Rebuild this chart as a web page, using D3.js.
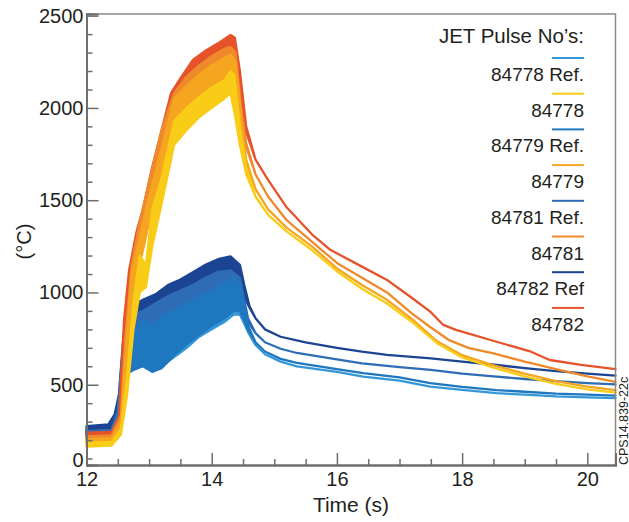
<!DOCTYPE html>
<html><head><meta charset="utf-8">
<script src="https://cdn.jsdelivr.net/npm/d3@7"></script>
<style>body{margin:0;background:#fff}</style>
</head><body><svg id="c" width="629" height="522"></svg>
<script>
// ---- data (t [s], low, high [°C]); single value where the trace is a thin line ----
const legendLabels = ["84778 Ref.","84778","84779 Ref.","84779","84781 Ref.","84781","84782 Ref","84782"];
const legendColors = ["#3597d8","#f9cc18","#1f77c0","#f5a51f","#2e6db5","#ef8a2c","#1b4592","#e6532a"];
const xTicksMajor = [12,14,16,18,20];
const yTicksMajor = [500,1000,1500,2000,2500];

const ref84782 = [[12.0,240,275],[12.35,250,285],[12.45,280,340],[12.52,380,450],[12.58,600,720],[12.65,760,880],[12.75,800,930],[12.9,840,960],[13.1,870,990],[13.3,900,1040],[13.5,930,1070],[13.7,980,1110],[13.9,1020,1150],[14.1,1060,1180],[14.3,1080,1195],[14.45,1050,1150],[14.52,980,1040],[14.6,920,930],[14.7,860],[14.85,800],[15.1,760],[15.5,730],[16.0,700],[16.4,679],[16.8,662],[17.5,643],[18.0,625],[18.55,607],[19.0,590],[19.5,574],[20.0,560],[20.45,549]];
const ref84781 = [[12.0,225,250],[12.4,230,255],[12.5,300,360],[12.56,500,620],[12.63,700,800],[12.75,720,880],[12.9,720,900],[13.1,760,940],[13.3,790,980],[13.5,820,1010],[13.7,860,1040],[13.9,900,1080],[14.1,940,1110],[14.3,970,1120],[14.45,960,1080],[14.52,900,960],[14.58,840,860],[14.7,780],[14.85,730],[15.1,695],[15.36,672],[16.0,638],[16.4,616],[17.0,595],[17.5,580],[18.0,560],[18.55,544],[19.0,531],[19.5,519],[20.0,509],[20.45,502]];
const ref84779 = [[12.0,215,240],[12.4,220,245],[12.5,290,340],[12.57,450,560],[12.65,560,700],[12.75,580,780],[12.9,600,850],[13.05,570,820],[13.2,590,870],[13.4,660,900],[13.6,720,940],[13.8,770,980],[14.0,820,1010],[14.2,860,1050],[14.35,900,1080],[14.45,900,1040],[14.52,850,920],[14.58,800,820],[14.7,730],[14.85,680],[15.1,640],[15.36,618],[16.0,585],[16.42,563],[17.0,540],[17.49,509],[18.0,488],[18.55,471],[19.0,462],[19.5,452],[20.0,446],[20.45,441]];
const ref84778 = [[12.0,205,230],[12.4,210,235],[12.5,280,330],[12.57,430,540],[12.65,560,680],[12.75,590,760],[12.9,620,830],[13.05,580,800],[13.2,600,850],[13.4,650,880],[13.6,700,920],[13.8,760,960],[14.0,800,990],[14.2,840,1030],[14.35,880,1060],[14.45,880,1020],[14.52,830,900],[14.58,785,800],[14.7,715],[14.85,665],[15.1,625],[15.36,600],[16.0,570],[16.42,544],[17.0,522],[17.49,490],[18.0,472],[18.55,454],[19.0,446],[19.5,437],[20.0,432],[20.45,427]];
const p84782 = [[12.0,215,240],[12.4,220,245],[12.52,280,330],[12.6,700,850],[12.68,1000,1120],[12.8,1200,1330],[12.9,1350,1450],[13.05,1550,1680],[13.2,1780,1880],[13.35,1980,2080],[13.5,2060,2160],[13.7,2150,2260],[13.9,2200,2310],[14.1,2250,2350],[14.3,2290,2395],[14.37,2230,2380],[14.45,2050,2200],[14.55,1870,1900],[14.7,1720],[14.9,1610],[15.2,1460],[15.6,1315],[15.9,1230],[16.4,1140],[16.8,1068],[17.2,970],[17.5,893],[17.7,824],[17.9,797],[18.55,733],[19.1,679],[19.4,634],[19.9,607],[20.45,584]];
const p84781 = [[12.0,200,220],[12.4,205,225],[12.55,280,330],[12.62,600,750],[12.72,1000,1150],[12.85,1250,1380],[13.0,1480,1600],[13.2,1750,1880],[13.4,1980,2080],[13.6,2070,2170],[13.8,2120,2230],[14.0,2170,2280],[14.2,2210,2320],[14.3,2230,2330],[14.38,2150,2300],[14.47,1850,2000],[14.55,1790,1810],[14.7,1640],[14.9,1520],[15.2,1390],[15.6,1275],[16.0,1160],[16.4,1080],[16.8,1000],[17.2,885],[17.5,810],[17.8,740],[18.1,700],[18.5,670],[19.0,625],[19.5,585],[20.0,545],[20.45,516]];
const p84779 = [[12.0,185,205],[12.4,190,210],[12.55,260,300],[12.62,500,650],[12.72,900,1100],[12.85,1150,1300],[13.0,1380,1520],[13.2,1650,1780],[13.4,1900,2050],[13.6,2000,2120],[13.8,2060,2180],[14.0,2120,2230],[14.2,2160,2270],[14.3,2180,2290],[14.38,2100,2250],[14.47,1780,1950],[14.55,1700,1720],[14.7,1560],[14.9,1450],[15.2,1350],[15.6,1250],[16.0,1130],[16.4,1040],[16.8,960],[17.2,855],[17.6,735],[18.0,660],[18.5,605],[19.0,560],[19.5,520],[20.0,490],[20.45,471]];
const p84778 = [[12.0,165,185],[12.4,170,190],[12.55,230,260],[12.65,450,550],[12.75,800,950],[12.85,1000,1200],[12.95,1030,1150],[13.05,1250,1450],[13.2,1480,1620],[13.4,1800,1930],[13.6,1880,2000],[13.8,1950,2060],[14.0,2000,2110],[14.2,2050,2150],[14.3,2080,2200],[14.36,1980,2180],[14.45,1800,1900],[14.55,1640,1680],[14.7,1520],[14.9,1420],[15.2,1330],[15.6,1230],[16.0,1115],[16.4,1020],[16.8,940],[17.2,840],[17.6,725],[18.0,648],[18.5,592],[19.0,545],[19.5,505],[20.0,475],[20.45,457]];

// drawing order (blues behind, hot traces in front)
const drawOrder = [
  {d: ref84782, c: legendColors[6]},
  {d: ref84781, c: legendColors[4]},
  {d: ref84778, c: legendColors[0]},
  {d: ref84779, c: legendColors[2]},
  {d: p84782, c: legendColors[7]},
  {d: p84781, c: legendColors[5]},
  {d: p84779, c: legendColors[3]},
  {d: p84778, c: legendColors[1]}
];

const svg = d3.select("#c");
const L = 86.5, R = 615.5, T = 14, B = 465;
const x = d3.scaleLinear().domain([12, 20.45]).range([L, R]);
const y = d3.scaleLinear().domain([65, 2509]).range([B, T]);

const lo = d => d[1], hi = d => (d.length > 2 ? d[2] : d[1]);
const area = d3.area().x(d => x(d[0])).y0(d => y(lo(d))).y1(d => y(hi(d)));

const g = svg.append("g");
drawOrder.forEach(s => {
  g.append("path").attr("d", area(s.d))
    .attr("fill", s.c).attr("stroke", s.c)
    .attr("stroke-width", 2.3).attr("stroke-linejoin", "round");
});

const axisColor = "#6e6e6e";
const font = "'Liberation Sans', Arial, sans-serif";

// frame
svg.append("path").attr("d", `M${L},${T}H${R}V${B}`).attr("fill","none")
  .attr("stroke","#8a8a8a").attr("stroke-width",1.5);

// x axis
const xMinor = d3.range(12.5, 20.45, 0.5).filter(v => v % 2 !== 0);
const gxm = svg.append("g").attr("transform", `translate(0,${B})`)
  .call(d3.axisBottom(x).tickValues(xMinor).tickSize(-6).tickFormat(""));
const gx = svg.append("g").attr("transform", `translate(0,${B})`)
  .call(d3.axisBottom(x).tickValues(xTicksMajor).tickSize(-12).tickPadding(7).tickFormat(d3.format("d")));
// y axis
const yMinor = d3.range(100, 2500, 100).filter(v => v % 500 !== 0);
const gym = svg.append("g").attr("transform", `translate(${L},0)`)
  .call(d3.axisLeft(y).tickValues(yMinor).tickSize(-6).tickFormat(""));
const gy = svg.append("g").attr("transform", `translate(${L},0)`)
  .call(d3.axisLeft(y).tickValues(yTicksMajor).tickSize(-12).tickPadding(3).tickFormat(d3.format("d")));

[gxm, gx, gym, gy].forEach(a => {
  a.select(".domain").attr("stroke", axisColor).attr("stroke-width", 2);
  a.selectAll(".tick line").attr("stroke", axisColor).attr("stroke-width", 1.5);
  a.selectAll("text").attr("font-family", font).attr("font-size", 20).attr("fill", "#231f20");
});
// "0" label at the bottom of the y axis
svg.append("text").attr("x", L - 3).attr("y", B + 1.5).attr("text-anchor","end")
  .attr("font-family", font).attr("font-size", 20).attr("fill","#231f20").text("0");

// axis titles
svg.append("text").attr("x", (L + R) / 2).attr("y", 512).attr("text-anchor","middle")
  .attr("font-family", font).attr("font-size", 21).attr("fill","#231f20").text("Time (s)");
svg.append("text").attr("transform", `translate(31,${(T + B) / 2 + 2}) rotate(-90)`).attr("text-anchor","middle")
  .attr("font-family", font).attr("font-size", 20).attr("fill","#231f20").text("(°C)");

// legend
const lx1 = 552, lx2 = 584;
svg.append("text").attr("x", lx2).attr("y", 43).attr("text-anchor","end")
  .attr("font-family", font).attr("font-size", 20.5).attr("fill","#231f20").text("JET Pulse No’s:");
legendLabels.forEach((lab, i) => {
  const ly = 58 + i * 35.7;
  svg.append("line").attr("x1", lx1).attr("x2", lx2).attr("y1", ly).attr("y2", ly)
    .attr("stroke", legendColors[i]).attr("stroke-width", 2);
  svg.append("text").attr("x", lx2).attr("y", ly + 23).attr("text-anchor","end")
    .attr("font-family", font).attr("font-size", 19).attr("fill","#231f20").text(lab);
});

// figure reference code
svg.append("text").attr("transform", `translate(627.5,${B}) rotate(-90)`).attr("text-anchor","start")
  .attr("font-family", font).attr("font-size", 12.5).attr("fill","#231f20").text("CPS14.839-22c");
</script>
</body></html>
